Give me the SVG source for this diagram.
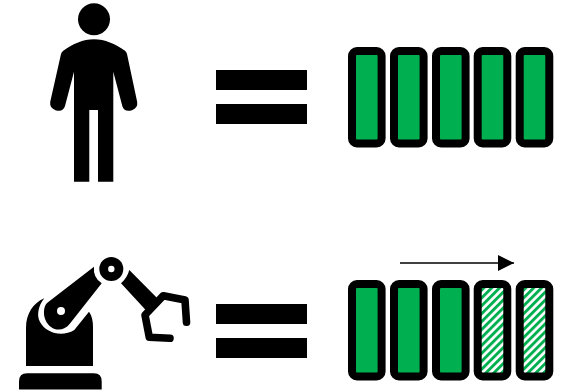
<svg xmlns="http://www.w3.org/2000/svg" width="562" height="391" viewBox="0 0 562 391">
<defs>
<pattern id="hatch" width="5.6" height="5.6" patternUnits="userSpaceOnUse" patternTransform="rotate(45)">
<rect width="5.6" height="5.6" fill="#fff"/>
<rect width="2.9" height="5.6" fill="#00b050"/>
</pattern>
<marker id="head" markerUnits="userSpaceOnUse" markerWidth="16" markerHeight="16" refX="16" refY="8" orient="auto">
<path d="M0 0L16 8L0 16Z" fill="#000"/>
</marker>
<rect id="cell" width="29.6" height="92.4" rx="5" stroke="#000" stroke-width="8"/>
</defs>
<style>
.solid{fill:#00b050}
.striped{fill:url(#hatch)}
.bar{fill:#000}
.ink{fill:#000}
.claw{fill:none;stroke:#000;stroke-width:7.6;stroke-linecap:round;stroke-linejoin:round}
.wire{fill:none;stroke:#000;stroke-width:1.3}
.hole{fill:#fff}
</style>
<rect width="562" height="391" fill="#fff"/>
<g id="person" class="ink">
<circle cx="94" cy="19.3" r="16"/>
<path d="M63.3 50.7C73 44 83 39.3 94 39.3C105 39.3 115 44 125 50.7Q126.5 52 127 54L137.2 102Q138 108 132 110.2Q124 112.5 122.3 106L113.3 71.7V181.7H98V110H89.3V181.7H74V71.7L65 106Q63 112.5 55.5 110.2Q49.5 108 50.2 102L61 54Q61.5 52 63.3 50.7Z"/>
</g>
<g id="equals-top">
<rect class="bar" x="216" y="70" width="91" height="20"/>
<rect class="bar" x="216" y="104" width="91" height="20"/>
</g>
<g id="battery-top">
<use href="#cell" x="352" y="51" class="solid"/>
<use href="#cell" x="394" y="51" class="solid"/>
<use href="#cell" x="436" y="51" class="solid"/>
<use href="#cell" x="477.7" y="51" class="solid"/>
<use href="#cell" x="519.7" y="51" class="solid"/>
</g>
<g id="robot" class="ink">
<path d="M19 389.5V381.5Q19 373.3 27 373.3H94Q101.7 373.3 101.7 381.5V389.5Z"/>
<path d="M26 366V328C26 314 33 303 44.3 298.3C38 306 36.5 316 40 322C46 333 62 337.5 74.3 330L89 311.7C92 316 93 321 93 327V366Z"/>
<path d="M94 266.7L47 303C43.5 306 43 315 45.5 320C50 331 63 333 70 323.5L101.7 283.3A17.5 17.5 0 0 1 94 266.7Z"/>
<circle class="hole" cx="61" cy="311" r="4"/>
<circle cx="111.3" cy="269" r="12"/>
<circle class="hole" cx="111.3" cy="269" r="3.2"/>
<path d="M129.3 270L158.3 299.3L147.3 311.7L121 283.3C125 280 128 275 129.3 270Z"/>
<path class="claw" d="M186.5 322.3L185 300L163.3 295.7L145 315L149.3 337.3L170 338.3"/>
</g>
<g id="equals-bottom">
<rect class="bar" x="216" y="304" width="91" height="20"/>
<rect class="bar" x="216" y="338" width="91" height="20"/>
</g>
<g id="battery-bottom">
<use href="#cell" x="352" y="284" class="solid"/>
<use href="#cell" x="394" y="284" class="solid"/>
<use href="#cell" x="436" y="284" class="solid"/>
<use href="#cell" x="477.7" y="284" class="striped"/>
<use href="#cell" x="519.7" y="284" class="striped"/>
</g>
<g id="connectors">
<line class="wire" x1="400" y1="263" x2="514" y2="263" marker-end="url(#head)"/>
</g>
</svg>
